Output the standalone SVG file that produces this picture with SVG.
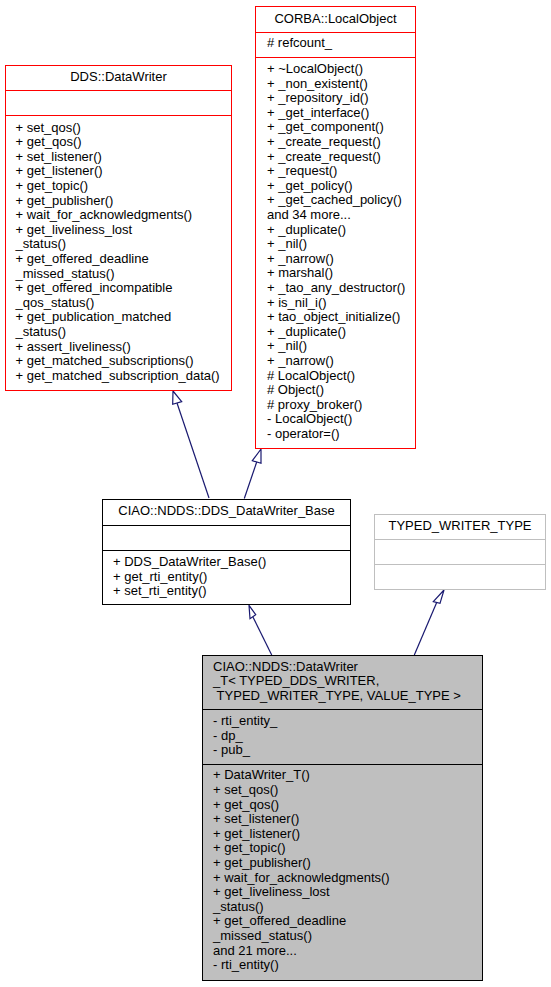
<svg xmlns="http://www.w3.org/2000/svg" width="551" height="987" viewBox="0 0 551 987">
<style>
text{font-family:"Liberation Sans",Arial,Helvetica,sans-serif;font-size:13px;fill:#000}
.c{text-anchor:middle}
.box{fill:#fff;stroke-width:1}
.red{stroke:#ff0000}
.blk{stroke:#000}
.gry{stroke:#bfbfbf}
.sel{fill:#bfbfbf}
.edge line{stroke:#191970;stroke-width:1.2}
.edge polygon{fill:#fff;stroke:#191970;stroke-width:1.2}
</style>
<rect width="551" height="987" fill="#fff"/>
<g id="edges" class="edge">
  <line x1="209" y1="498" x2="177" y2="403"/>
  <polygon points="173,391 172.7,404.3 181.7,401.7"/>
  <line x1="244.3" y1="498.5" x2="256.7" y2="462"/>
  <polygon points="261,449 252.3,460.7 261,463.3"/>
  <line x1="271.7" y1="655" x2="252.8" y2="616.7"/>
  <polygon points="249,605.3 250,618.7 255.7,614.7"/>
  <line x1="414.3" y1="655" x2="436.7" y2="602.5"/>
  <polygon points="444,590 433.3,601.7 440,603.3"/>
</g>
<g id="dds_datawriter">
  <rect class="box red" x="5.5" y="65.5" width="226" height="325"/>
  <line class="red" x1="5.5" y1="90.5" x2="231.5" y2="90.5"/>
  <line class="red" x1="5.5" y1="115.5" x2="231.5" y2="115.5"/>
  <text class="c" x="118.5" y="81">DDS::DataWriter</text>
  <text x="15.5" y="131.5">+ set_qos()</text>
  <text x="15.5" y="146.1">+ get_qos()</text>
  <text x="15.5" y="160.7">+ set_listener()</text>
  <text x="15.5" y="175.3">+ get_listener()</text>
  <text x="15.5" y="189.9">+ get_topic()</text>
  <text x="15.5" y="204.5">+ get_publisher()</text>
  <text x="15.5" y="219.1">+ wait_for_acknowledgments()</text>
  <text x="15.5" y="233.7">+ get_liveliness_lost</text>
  <text x="15.5" y="248.3">_status()</text>
  <text x="15.5" y="262.9">+ get_offered_deadline</text>
  <text x="15.5" y="277.5">_missed_status()</text>
  <text x="15.5" y="292.1">+ get_offered_incompatible</text>
  <text x="15.5" y="306.7">_qos_status()</text>
  <text x="15.5" y="321.3">+ get_publication_matched</text>
  <text x="15.5" y="335.9">_status()</text>
  <text x="15.5" y="350.5">+ assert_liveliness()</text>
  <text x="15.5" y="365.1">+ get_matched_subscriptions()</text>
  <text x="15.5" y="379.7">+ get_matched_subscription_data()</text>
</g>
<g id="corba_localobject">
  <rect class="box red" x="255.5" y="6.5" width="160" height="442"/>
  <line class="red" x1="255.5" y1="32.5" x2="415.5" y2="32.5"/>
  <line class="red" x1="255.5" y1="57.5" x2="415.5" y2="57.5"/>
  <text class="c" x="335.5" y="23">CORBA::LocalObject</text>
  <text x="267" y="47"># refcount_</text>
  <text x="267" y="73">+ ~LocalObject()</text>
  <text x="267" y="87.6">+ _non_existent()</text>
  <text x="267" y="102.2">+ _repository_id()</text>
  <text x="267" y="116.8">+ _get_interface()</text>
  <text x="267" y="131.4">+ _get_component()</text>
  <text x="267" y="146">+ _create_request()</text>
  <text x="267" y="160.6">+ _create_request()</text>
  <text x="267" y="175.2">+ _request()</text>
  <text x="267" y="189.8">+ _get_policy()</text>
  <text x="267" y="204.4">+ _get_cached_policy()</text>
  <text x="267" y="219">and 34 more...</text>
  <text x="267" y="233.6">+ _duplicate()</text>
  <text x="267" y="248.2">+ _nil()</text>
  <text x="267" y="262.8">+ _narrow()</text>
  <text x="267" y="277.4">+ marshal()</text>
  <text x="267" y="292">+ _tao_any_destructor()</text>
  <text x="267" y="306.6">+ is_nil_i()</text>
  <text x="267" y="321.2">+ tao_object_initialize()</text>
  <text x="267" y="335.8">+ _duplicate()</text>
  <text x="267" y="350.4">+ _nil()</text>
  <text x="267" y="365">+ _narrow()</text>
  <text x="267" y="379.6"># LocalObject()</text>
  <text x="267" y="394.2"># Object()</text>
  <text x="267" y="408.8"># proxy_broker()</text>
  <text x="267" y="423.4">- LocalObject()</text>
  <text x="267" y="438">- operator=()</text>
</g>
<g id="dds_datawriter_base">
  <rect class="box blk" x="102.5" y="499.5" width="248" height="105"/>
  <line class="blk" x1="102.5" y1="525.5" x2="350.5" y2="525.5"/>
  <line class="blk" x1="102.5" y1="550.5" x2="350.5" y2="550.5"/>
  <text class="c" x="226.5" y="515">CIAO::NDDS::DDS_DataWriter_Base</text>
  <text x="113" y="566">+ DDS_DataWriter_Base()</text>
  <text x="113" y="580.6">+ get_rti_entity()</text>
  <text x="113" y="595.2">+ set_rti_entity()</text>
</g>
<g id="typed_writer_type">
  <rect class="box gry" x="374.5" y="514.5" width="171" height="75"/>
  <line class="gry" x1="374.5" y1="539.5" x2="545.5" y2="539.5"/>
  <line class="gry" x1="374.5" y1="564.5" x2="545.5" y2="564.5"/>
  <text class="c" x="460" y="530">TYPED_WRITER_TYPE</text>
</g>
<g id="datawriter_t">
  <rect class="sel blk" x="202.5" y="655.5" width="280" height="325" stroke-width="1"/>
  <line class="blk" x1="202.5" y1="709.5" x2="482.5" y2="709.5"/>
  <line class="blk" x1="202.5" y1="764.5" x2="482.5" y2="764.5"/>
  <text x="213" y="670.5">CIAO::NDDS::DataWriter</text>
  <text x="213" y="685.1">_T&lt; TYPED_DDS_WRITER,</text>
  <text x="216.6" y="699.7">TYPED_WRITER_TYPE, VALUE_TYPE &gt;</text>
  <text x="213" y="725">- rti_entity_</text>
  <text x="213" y="739.6">- dp_</text>
  <text x="213" y="754.2">- pub_</text>
  <text x="213" y="779.3">+ DataWriter_T()</text>
  <text x="213" y="793.9">+ set_qos()</text>
  <text x="213" y="808.5">+ get_qos()</text>
  <text x="213" y="823.1">+ set_listener()</text>
  <text x="213" y="837.7">+ get_listener()</text>
  <text x="213" y="852.3">+ get_topic()</text>
  <text x="213" y="866.9">+ get_publisher()</text>
  <text x="213" y="881.5">+ wait_for_acknowledgments()</text>
  <text x="213" y="896.1">+ get_liveliness_lost</text>
  <text x="213" y="910.7">_status()</text>
  <text x="213" y="925.3">+ get_offered_deadline</text>
  <text x="213" y="939.9">_missed_status()</text>
  <text x="213" y="954.5">and 21 more...</text>
  <text x="213" y="969.1">- rti_entity()</text>
</g>
</svg>
